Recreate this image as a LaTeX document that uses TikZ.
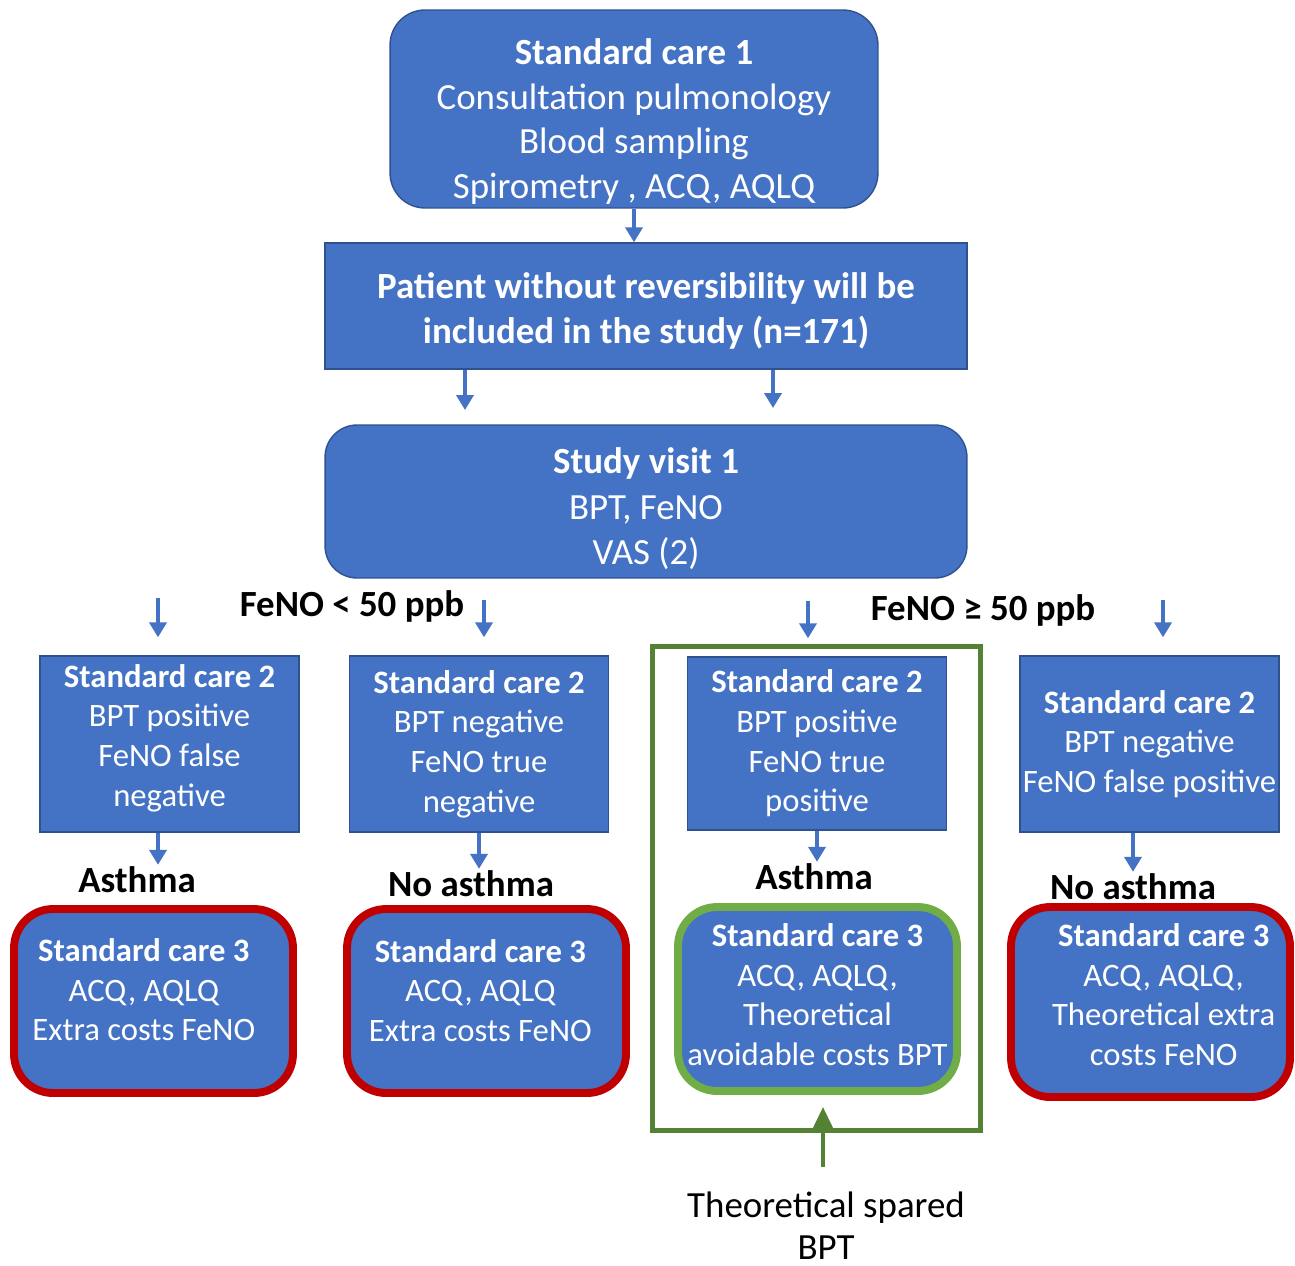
\documentclass[tikz,border=0pt]{standalone}
\usepackage{fontspec}
\setmainfont{Carlito}
\usetikzlibrary{arrows.meta}
\definecolor{boxblue}{HTML}{4472C4}
\definecolor{boxedge}{HTML}{2F528F}
\definecolor{ringred}{HTML}{C00000}
\definecolor{ringgreen}{HTML}{70AD47}
\definecolor{framegreen}{HTML}{548235}
\newcommand{\bigtext}{\fontsize{21}{26}\selectfont}
\newcommand{\smalltext}{\fontsize{18.6}{22.6}\selectfont}
% struts to move the text of a box up or down, and sideways
\newcommand{\padtop}[1]{\rule{0pt}{#1}}
\newcommand{\padbot}[1]{\rule[-#1]{0pt}{#1}}
\newcommand{\nudge}[1]{\hspace*{#1}}

\begin{document}
\begin{tikzpicture}[
  x=0.02cm, y=-0.02cm,
  block/.style={rectangle, draw=boxedge, fill=boxblue, line width=0.8pt,
                text=white, align=center, inner sep=0pt},
  roundblock/.style={block, rounded corners=0.7cm, font=\bigtext},
  care/.style={block, minimum width=5.18cm, minimum height=3.52cm, font=\smalltext},
  outcome/.style={block, rounded corners=0.78cm, line width=4.5pt,
                  minimum width=5.58cm, minimum height=3.68cm, font=\smalltext},
  redring/.style={outcome, draw=ringred},
  greenring/.style={outcome, draw=ringgreen},
  flow/.style={-{Triangle[width=0.34cm,length=0.3cm]}, line width=2.4pt, draw=boxblue},
  spare/.style={-{Triangle[width=0.38cm,length=0.42cm]}, line width=2.2pt, draw=framegreen},
  verdict/.style={font=\bigtext\bfseries, inner sep=1pt}
]
  \useasboundingbox (0,0) rectangle (1295,1265);

  % Nodes
  \node[roundblock, minimum width=9.76cm, minimum height=3.96cm,
        font=\fontsize{21}{25.4}\selectfont] (sc1) at (634,109)
    {\padtop{29pt}\textbf{Standard care 1}\\Consultation pulmonology\\Blood sampling\\Spirometry , ACQ, AQLQ};
  \node[block, minimum width=12.84cm, minimum height=2.52cm, font=\bigtext\bfseries] (incl) at (646,306)
    {\padtop{20.5pt}Patient without reversibility will be\\included in the study (n=171)};
  \node[roundblock, minimum width=12.84cm, minimum height=3.06cm, rounded corners=0.64cm] (visit) at (646,501.5)
    {\padtop{23pt}\textbf{Study visit 1}\\BPT, FeNO\\VAS (2)};

  \node[verdict] (lowlabel)  at (352,606) {FeNO < 50 ppb};
  \node[verdict] (highlabel) at (983,610) {FeNO ≥ 50 ppb};

  \node[care] (careFN) at (169.5,744) {\textbf{Standard care 2}\\BPT positive\\FeNO false\\negative\padbot{10pt}};
  \node[care] (careTN) at (479,744) {\textbf{Standard care 2}\\BPT negative\\FeNO true\\negative};
  \node[care, minimum height=3.46cm] (careTP) at (817,743.5) {\textbf{Standard care 2}\\BPT positive\\FeNO true\\positive};
  \node[care] (careFP) at (1149.5,744) {\textbf{Standard care 2}\\BPT negative\\FeNO false positive};

  \node[verdict] (asthFN) at (137,880) {Asthma};
  \node[verdict] (noTN)   at (471,884) {No asthma};
  \node[verdict] (asthTP) at (814,877) {Asthma};
  \node[verdict] (noFP)   at (1133,887) {No asthma};

  \node[redring] (costFN) at (153.5,1001)
    {\nudge{-11pt}\textbf{Standard care 3}\\\nudge{-11pt}ACQ, AQLQ\\\nudge{-11pt}Extra costs FeNO\padbot{13pt}};
  \node[redring] (costTN) at (486.5,1001)
    {\nudge{-7pt}\textbf{Standard care 3}\\\nudge{-7pt}ACQ, AQLQ\\\nudge{-7pt}Extra costs FeNO\padbot{12pt}};
  \node[greenring] (costTP) at (817.5,999)
    {\textbf{Standard care 3}\\ACQ, AQLQ,\\Theoretical\\avoidable costs BPT\padbot{5pt}};
  \node[redring, minimum height=3.8cm] (costFP) at (1150.5,1002)
    {\nudge{15pt}\textbf{Standard care 3}\\\nudge{15pt}ACQ, AQLQ,\\\nudge{15pt}Theoretical extra\\\nudge{15pt}costs FeNO\padbot{8.5pt}};

  \node[draw=framegreen, line width=2.8pt, minimum width=6.56cm, minimum height=9.68cm,
        inner sep=0pt] (frame) at (816.5,888.5) {};
  \node[font=\fontsize{21}{24}\selectfont, align=center, inner sep=0pt] (spared) at (826,1226)
    {Theoretical spared\\BPT};

  % Free arrow ends
  \coordinate (outL) at (465,410);
  \coordinate (outR) at (773,408);
  \coordinate (inFN) at (158,598);
  \coordinate (inTN) at (484,600);
  \coordinate (inTP) at (808,601);
  \coordinate (inFP) at (1163,600);
  \coordinate (spareTail) at (823,1167);

  % Arrows
  \draw[flow] (sc1.south) -- (sc1.south |- incl.north);
  \draw[flow] (incl.south -| outL) -- (outL);
  \draw[flow] (incl.south -| outR) -- (outR);
  \draw[flow, shorten >=0.36cm] (inFN) -- (inFN |- careFN.north);
  \draw[flow, shorten >=0.36cm] (inTN) -- (inTN |- careTN.north);
  \draw[flow, shorten >=0.36cm] (inTP) -- (inTP |- careTP.north);
  \draw[flow, shorten >=0.36cm] (inFP) -- (inFP |- careFP.north);
  \draw[flow] (careFN.south -| inFN) -- (asthFN.north -| inFN);
  \draw[flow] (careTN.south) -- (careTN.south |- noTN.north);
  \draw[flow] (careTP.south) -- (careTP.south |- asthTP.north);
  \draw[flow] (careFP.south -| noFP) -- (noFP.north);
  % Green arrow: spared test
  \draw[spare, shorten >=0.24cm] (spareTail) -- (spareTail |- costTP.south);
\end{tikzpicture}
\end{document}
